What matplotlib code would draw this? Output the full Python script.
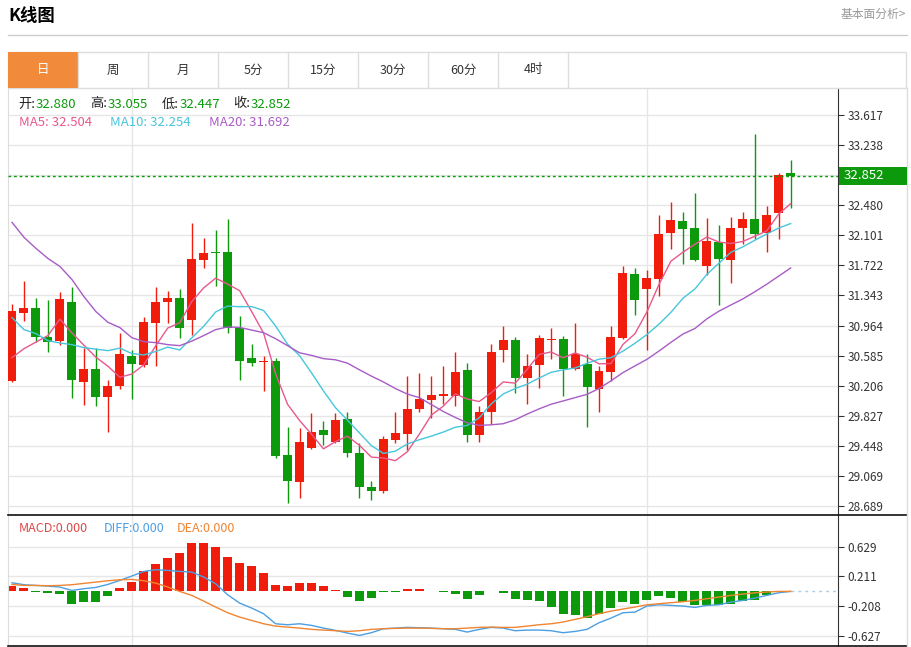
import numpy as np
import pandas as pd
import matplotlib
matplotlib.use("Agg")
import matplotlib.pyplot as plt
from matplotlib.patches import Rectangle
from matplotlib.lines import Line2D

plt.rcParams['font.family'] = ['Noto Sans CJK SC', 'DejaVu Sans']

# daily candles
opens = [30.259, 31.127, 31.190, 30.824, 30.770, 31.266, 30.256, 30.416, 30.057, 30.205,
         30.580, 30.466, 30.997, 31.254, 31.308, 31.030, 31.793, 31.889, 31.889, 30.938,
         30.559, 30.499, 30.521, 29.333, 28.988, 29.418, 29.645, 29.501, 29.784, 29.355,
         28.933, 28.882, 29.523, 29.599, 29.914, 30.019, 30.070, 30.079, 30.407, 29.590,
         29.880, 30.656, 30.786, 30.306, 30.470, 30.777, 30.795, 30.416, 30.479, 30.163,
         30.378, 30.808, 31.607, 31.430, 31.553, 32.129, 32.277, 32.188, 31.712, 32.015,
         31.793, 32.188, 32.302, 32.125, 32.378, 32.880]
highs = [31.241, 31.519, 31.313, 31.288, 31.389, 31.452, 30.676, 30.685, 30.277, 30.871,
         30.660, 31.073, 31.452, 31.401, 31.418, 32.260, 32.071, 32.167, 32.311, 31.080,
         30.732, 30.575, 30.555, 29.691, 29.671, 29.860, 29.763, 29.860, 29.868, 29.489,
         29.009, 29.577, 29.873, 30.322, 30.365, 30.331, 30.458, 30.631, 30.492, 29.944,
         30.736, 30.954, 30.820, 30.609, 30.849, 30.934, 30.837, 30.997, 30.609, 30.458,
         30.963, 31.712, 31.692, 31.658, 32.356, 32.526, 32.399, 32.631, 32.315, 32.226,
         32.336, 32.399, 33.376, 32.470, 32.892, 33.055]
lows = [30.252, 31.026, 30.761, 30.626, 30.714, 30.045, 29.965, 29.952, 29.628, 30.167,
        30.037, 30.436, 30.449, 30.997, 30.811, 30.846, 31.689, 31.464, 30.871, 30.274,
        30.449, 30.133, 29.292, 28.731, 28.786, 29.405, 29.460, 29.481, 29.304, 28.786,
        28.765, 28.849, 29.481, 29.396, 29.873, 29.797, 29.978, 29.944, 29.494, 29.501,
        29.721, 30.504, 30.113, 29.978, 30.176, 30.546, 30.079, 30.407, 29.683, 29.868,
        30.268, 30.799, 31.102, 30.660, 31.342, 31.932, 31.734, 31.775, 31.598, 31.228,
        31.494, 31.986, 32.049, 31.889, 32.058, 32.447]
closes = [31.149, 31.190, 30.824, 30.761, 31.300, 30.281, 30.416, 30.066, 30.196, 30.605,
          30.474, 31.005, 31.266, 31.308, 30.938, 31.806, 31.873, 31.876, 30.938, 30.521,
          30.496, 30.512, 29.321, 29.009, 29.501, 29.628, 29.590, 29.775, 29.355, 28.925,
          28.882, 29.535, 29.607, 29.914, 30.032, 30.082, 30.104, 30.382, 29.590, 29.873,
          30.635, 30.786, 30.302, 30.458, 30.811, 30.799, 30.416, 30.609, 30.189, 30.394,
          30.815, 31.620, 31.283, 31.566, 32.113, 32.289, 32.185, 31.784, 32.024, 31.797,
          32.197, 32.311, 32.113, 32.361, 32.862, 32.852]

# moving averages at the left edge (their history is off-screen)
ma5_head = [30.559, 30.672, 30.755, 30.837]
ma10_head = [31.064, 30.912, 30.862, 30.773, 30.744, 30.723, 30.685, 30.666, 30.647]
ma20_head = [32.264, 32.075, 31.936, 31.809, 31.708, 31.544, 31.329, 31.140, 31.005, 30.938,
             30.811, 30.761, 30.748, 30.723, 30.710, 30.767, 30.837, 30.912, 30.946]
ma_shown = [32.504, 32.254, 31.692]

# MACD panel
macd_hist = [0.07, 0.042, -0.014, -0.023, -0.037, -0.174, -0.15, -0.155, -0.066, 0.047,
             0.131, 0.281, 0.389, 0.464, 0.539, 0.685, 0.685, 0.628, 0.478, 0.403,
             0.352, 0.253, 0.084, 0.075, 0.122, 0.113, 0.07, 0.014, -0.075, -0.131,
             -0.098, -0.014, -0.005, 0.028, 0.028, 0.01, -0.01, -0.033, -0.113, -0.047,
             0.01, -0.023, -0.113, -0.122, -0.141, -0.22, -0.314, -0.338, -0.375, -0.319,
             -0.235, -0.155, -0.178, -0.117, -0.066, -0.089, -0.15, -0.197, -0.197, -0.197,
             -0.174, -0.141, -0.122, -0.056, 0.0, 0.0]
diff_line = [0.122, 0.094, 0.084, 0.075, 0.061, 0.014, 0.038, 0.056, 0.098, 0.155,
             0.216, 0.281, 0.305, 0.295, 0.281, 0.272, 0.202, 0.108, -0.047, -0.164,
             -0.234, -0.314, -0.455, -0.469, -0.455, -0.478, -0.516, -0.548, -0.586, -0.619,
             -0.581, -0.525, -0.516, -0.506, -0.511, -0.516, -0.525, -0.534, -0.572, -0.534,
             -0.506, -0.516, -0.553, -0.544, -0.544, -0.553, -0.581, -0.563, -0.534, -0.441,
             -0.375, -0.300, -0.291, -0.206, -0.188, -0.197, -0.206, -0.225, -0.197, -0.188,
             -0.150, -0.127, -0.094, -0.056, -0.019, 0.0]
dea_line = [0.098, 0.084, 0.084, 0.080, 0.084, 0.094, 0.113, 0.131, 0.150, 0.164,
            0.169, 0.150, 0.117, 0.061, 0.0, -0.056, -0.136, -0.220, -0.300, -0.361,
            -0.408, -0.455, -0.488, -0.502, -0.516, -0.534, -0.544, -0.553, -0.563, -0.553,
            -0.534, -0.525, -0.520, -0.516, -0.516, -0.520, -0.525, -0.525, -0.516, -0.506,
            -0.502, -0.506, -0.506, -0.488, -0.469, -0.455, -0.431, -0.394, -0.356, -0.314,
            -0.277, -0.248, -0.220, -0.188, -0.173, -0.159, -0.145, -0.127, -0.103, -0.080,
            -0.056, -0.038, -0.019, -0.009, 0.0, 0.0]

price_ticks = [28.689, 29.069, 29.448, 29.827, 30.206, 30.585, 30.964, 31.343, 31.722,
               32.101, 32.480, 32.859, 33.238, 33.617]
# the 32.859 label sits under the last-price tag
price_labels = ["28.689", "29.069", "29.448", "29.827", "30.206", "30.585", "30.964",
                "31.343", "31.722", "32.101", "32.480", "", "33.238", "33.617"]
macd_ticks = [0.629, 0.211, -0.208, -0.627]
tabs = ["日", "周", "月", "5分", "15分", "30分", "60分", "4时"]
month_starts = [10, 53]

RED = "#f01c0c"
GREEN = "#0c9a0c"
ORANGE = "#f28a3c"
C_MA5, C_MA10, C_MA20 = "#e8588e", "#47c6dc", "#a85cc6"
C_DIFF, C_DEA = "#4c9fe2", "#f08532"
GRID = "#e6e6e6"

W, H = 911, 647
fig = plt.figure(figsize=(W / 100, H / 100), dpi=100)


def fx(x):
    return x / W


def fy(y):
    return 1 - y / H


def hline(x0, x1, y, color, lw=1.0):
    fig.add_artist(Line2D([fx(x0), fx(x1)], [fy(y), fy(y)], color=color, lw=lw,
                          transform=fig.transFigure))


def vline(x, y0, y1, color, lw=1.0):
    fig.add_artist(Line2D([fx(x), fx(x)], [fy(y0), fy(y1)], color=color, lw=lw,
                          transform=fig.transFigure))


# header
fig.text(fx(8), fy(16), "K线图", fontsize=12.5, fontweight="bold", va="center")
fig.text(fx(906), fy(14), "基本面分析>", fontsize=8.5, color="#999999", va="center", ha="right")
hline(8, 907, 35, "#cccccc")

# tab bar
fig.add_artist(Rectangle((fx(8), fy(88)), fx(898), 36 / H, transform=fig.transFigure,
                         facecolor="white", edgecolor="#dddddd", lw=1))
fig.add_artist(Rectangle((fx(8), fy(88)), fx(70), 36 / H, transform=fig.transFigure,
                         facecolor=ORANGE, edgecolor="none"))
for k, t in enumerate(tabs):
    x0 = 8 + 70 * k
    vline(x0 + 70, 52, 88, "#dddddd")
    fig.text(fx(x0 + 35), fy(70), t, fontsize=9, ha="center", va="center",
             color="white" if k == 0 else "#333333")

xs = np.arange(len(closes))
xlim = (-0.334, 68.95)

# main axes
ax = fig.add_axes([fx(8), fy(515), 830 / W, 427 / H])
ax.set_xlim(*xlim)
ax.set_ylim(28.576, 33.957)
ax.set_yticks(price_ticks)
ax.set_yticklabels(price_labels, fontsize=8.5, color="#333333")
ax.yaxis.tick_right()
ax.tick_params(axis="y", length=4, color="#333333", pad=3)
ax.set_xticks([])
for y in price_ticks:
    ax.axhline(y, color=GRID, lw=1, zorder=0)
for m in month_starts:
    ax.axvline(m, color=GRID, lw=1, zorder=0)
for s in ["top", "bottom"]:
    ax.spines[s].set_visible(False)
ax.spines["left"].set_color("#dddddd")
ax.spines["right"].set_color("#333333")

for i in xs:
    o, h, l, c = opens[i], highs[i], lows[i], closes[i]
    col = RED if c > o else GREEN
    ax.vlines(i, l, h, color=col, lw=1, zorder=2)
    bh = max(abs(c - o), 0.013)
    ax.add_patch(Rectangle((i - 0.375, min(o, c)), 0.75, bh, facecolor=col,
                           edgecolor="none", zorder=3))

cs = pd.Series(closes)
ma5 = cs.rolling(5).mean().values
ma10 = cs.rolling(10).mean().values
ma20 = cs.rolling(20).mean().values
ma5[:len(ma5_head)] = ma5_head
ma10[:len(ma10_head)] = ma10_head
ma20[:len(ma20_head)] = ma20_head
ax.plot(xs, ma5, color=C_MA5, lw=1, zorder=4)
ax.plot(xs, ma10, color=C_MA10, lw=1, zorder=4)
ax.plot(xs, ma20, color=C_MA20, lw=1, zorder=4)

# last price line and tag
ax.axhline(closes[-1], color=GREEN, lw=1, ls=(0, (2, 2)), zorder=5)
ty = fy(515) + (closes[-1] - 28.576) / (33.957 - 28.576) * 427 / H
fig.add_artist(Rectangle((fx(839), ty - 9 / H), 68 / W, 18 / H, transform=fig.transFigure,
                         facecolor=GREEN, edgecolor="none", zorder=10))
fig.text(fx(844), ty, "%.3f" % closes[-1], color="white", fontsize=9.5, va="center", zorder=11)

# ohlc header
ohlc = [("开:", opens[-1], 18), ("高:", highs[-1], 90), ("低:", lows[-1], 162), ("收:", closes[-1], 233)]
for lab, v, x in ohlc:
    fig.text(fx(x), fy(104), lab, fontsize=9.5, va="center", color="#222222")
    fig.text(fx(x + 18), fy(104), "%.3f" % v, fontsize=9.5, va="center", color=GREEN)
for (lab, x, col), v in zip([("MA5", 19, C_MA5), ("MA10", 110, C_MA10), ("MA20", 209, C_MA20)], ma_shown):
    fig.text(fx(x), fy(122), "%s: %.3f" % (lab, v), fontsize=9.5, va="center", color=col)

# MACD axes
mx = fig.add_axes([fx(8), fy(646), 830 / W, 131 / H])
mx.set_xlim(*xlim)
mx.set_ylim(-0.768, 1.075)
mx.set_yticks(macd_ticks)
mx.set_yticklabels(["%.3f" % v for v in macd_ticks], fontsize=8.5, color="#333333")
mx.yaxis.tick_right()
mx.tick_params(axis="y", length=4, color="#333333", pad=3)
mx.set_xticks([])
for y in macd_ticks:
    mx.axhline(y, color=GRID, lw=1, zorder=0)
for m in month_starts:
    mx.axvline(m, color=GRID, lw=1, zorder=0)
for s in ["top", "bottom"]:
    mx.spines[s].set_visible(False)
mx.spines["left"].set_color("#dddddd")
mx.spines["right"].set_color("#333333")

hist = np.array(macd_hist)
mx.bar(xs, hist, width=0.75, color=[RED if v > 0 else GREEN for v in hist], zorder=2)
mx.plot(xs, diff_line, color=C_DIFF, lw=1, zorder=3)
mx.plot(xs, dea_line, color=C_DEA, lw=1, zorder=3)
mx.plot([xs[-1], xlim[1]], [0, 0], color="#a8cce8", lw=1, ls=(0, (2, 3)), zorder=1)

fig.text(fx(19), fy(528), "MACD:0.000", fontsize=9, va="center", color="#e04848")
fig.text(fx(104), fy(528), "DIFF:0.000", fontsize=9, va="center", color=C_DIFF)
fig.text(fx(177), fy(528), "DEA:0.000", fontsize=9, va="center", color=C_DEA)

# panel separators
hline(8, 907, 515, "#111111", 1.2)
hline(8, 907, 646, "#111111", 1.2)
vline(907, 88, 647, "#dddddd")

fig.savefig("out.png", dpi=100, facecolor="white")
